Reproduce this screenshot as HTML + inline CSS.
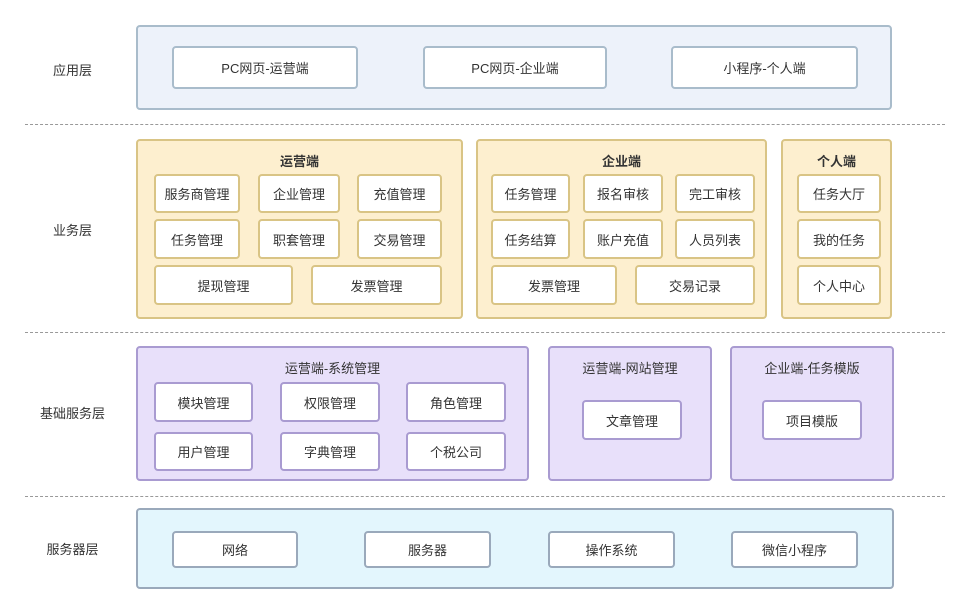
<!DOCTYPE html>
<html><head><meta charset="utf-8"><style>
body{margin:0;width:970px;height:613px;background:#fff;position:relative;overflow:hidden;font-family:"Liberation Sans","Noto Sans CJK SC",sans-serif;font-size:13px;color:#333}
div{position:absolute;box-sizing:border-box}
.b{border:2px solid;border-radius:4px;display:flex;align-items:center;justify-content:center;background:#fff}
.g{border:2px solid;border-radius:4px}
.a{border-color:#a9bccb}.y{border-color:#d9c485}.p{border-color:#a99bd1}.s{border-color:#9aa9bb}
.l{left:20px;width:105px;text-align:center}
.h{border-top:1px dashed #999;left:25px;width:920px;height:0}
.t{text-align:center;font-weight:bold}
</style></head><body>
<div class="l" style="top:60px">应用层</div>
<div class="l" style="top:220px">业务层</div>
<div class="l" style="top:403px">基础服务层</div>
<div class="l" style="top:539px">服务器层</div>
<div class="h" style="top:124px"></div>
<div class="h" style="top:332px"></div>
<div class="h" style="top:496px"></div>

<div class="g a" style="left:136px;top:25px;width:756px;height:85px;background:#edf2fa"></div>
<div class="b a" style="left:172px;top:46px;width:186px;height:43px">PC网页-运营端</div>
<div class="b a" style="left:423px;top:46px;width:184px;height:43px">PC网页-企业端</div>
<div class="b a" style="left:671px;top:46px;width:187px;height:43px">小程序-个人端</div>

<div class="g y" style="left:136px;top:139px;width:327px;height:180px;background:#fdefcf"></div>
<div class="t" style="left:136px;top:151px;width:327px">运营端</div>
<div class="b y" style="left:154px;top:174px;width:86px;height:39px">服务商管理</div>
<div class="b y" style="left:258px;top:174px;width:82px;height:39px">企业管理</div>
<div class="b y" style="left:357px;top:174px;width:85px;height:39px">充值管理</div>
<div class="b y" style="left:154px;top:219px;width:86px;height:40px">任务管理</div>
<div class="b y" style="left:258px;top:219px;width:82px;height:40px">职套管理</div>
<div class="b y" style="left:357px;top:219px;width:85px;height:40px">交易管理</div>
<div class="b y" style="left:154px;top:265px;width:139px;height:40px">提现管理</div>
<div class="b y" style="left:311px;top:265px;width:131px;height:40px">发票管理</div>

<div class="g y" style="left:476px;top:139px;width:291px;height:180px;background:#fdefcf"></div>
<div class="t" style="left:476px;top:151px;width:291px">企业端</div>
<div class="b y" style="left:491px;top:174px;width:79px;height:39px">任务管理</div>
<div class="b y" style="left:583px;top:174px;width:80px;height:39px">报名审核</div>
<div class="b y" style="left:675px;top:174px;width:80px;height:39px">完工审核</div>
<div class="b y" style="left:491px;top:219px;width:79px;height:40px">任务结算</div>
<div class="b y" style="left:583px;top:219px;width:80px;height:40px">账户充值</div>
<div class="b y" style="left:675px;top:219px;width:80px;height:40px">人员列表</div>
<div class="b y" style="left:491px;top:265px;width:126px;height:40px">发票管理</div>
<div class="b y" style="left:635px;top:265px;width:120px;height:40px">交易记录</div>

<div class="g y" style="left:781px;top:139px;width:111px;height:180px;background:#fdefcf"></div>
<div class="t" style="left:781px;top:151px;width:111px">个人端</div>
<div class="b y" style="left:797px;top:174px;width:84px;height:39px">任务大厅</div>
<div class="b y" style="left:797px;top:219px;width:84px;height:40px">我的任务</div>
<div class="b y" style="left:797px;top:265px;width:84px;height:40px">个人中心</div>

<div class="g p" style="left:136px;top:346px;width:393px;height:135px;background:#e8e0fa"></div>
<div style="left:136px;top:358px;width:393px;text-align:center">运营端-系统管理</div>
<div class="b p" style="left:154px;top:382px;width:99px;height:40px">模块管理</div>
<div class="b p" style="left:280px;top:382px;width:100px;height:40px">权限管理</div>
<div class="b p" style="left:406px;top:382px;width:100px;height:40px">角色管理</div>
<div class="b p" style="left:154px;top:432px;width:99px;height:39px">用户管理</div>
<div class="b p" style="left:280px;top:432px;width:100px;height:39px">字典管理</div>
<div class="b p" style="left:406px;top:432px;width:100px;height:39px">个税公司</div>

<div class="g p" style="left:548px;top:346px;width:164px;height:135px;background:#e8e0fa"></div>
<div style="left:548px;top:358px;width:164px;text-align:center">运营端-网站管理</div>
<div class="b p" style="left:582px;top:400px;width:100px;height:40px">文章管理</div>
<div class="g p" style="left:730px;top:346px;width:164px;height:135px;background:#e8e0fa"></div>
<div style="left:730px;top:358px;width:164px;text-align:center">企业端-任务模版</div>
<div class="b p" style="left:762px;top:400px;width:100px;height:40px">项目模版</div>

<div class="g s" style="left:136px;top:508px;width:758px;height:81px;background:#e3f6fd"></div>
<div class="b s" style="left:172px;top:531px;width:126px;height:37px">网络</div>
<div class="b s" style="left:364px;top:531px;width:127px;height:37px">服务器</div>
<div class="b s" style="left:548px;top:531px;width:127px;height:37px">操作系统</div>
<div class="b s" style="left:731px;top:531px;width:127px;height:37px">微信小程序</div>
</body></html>
